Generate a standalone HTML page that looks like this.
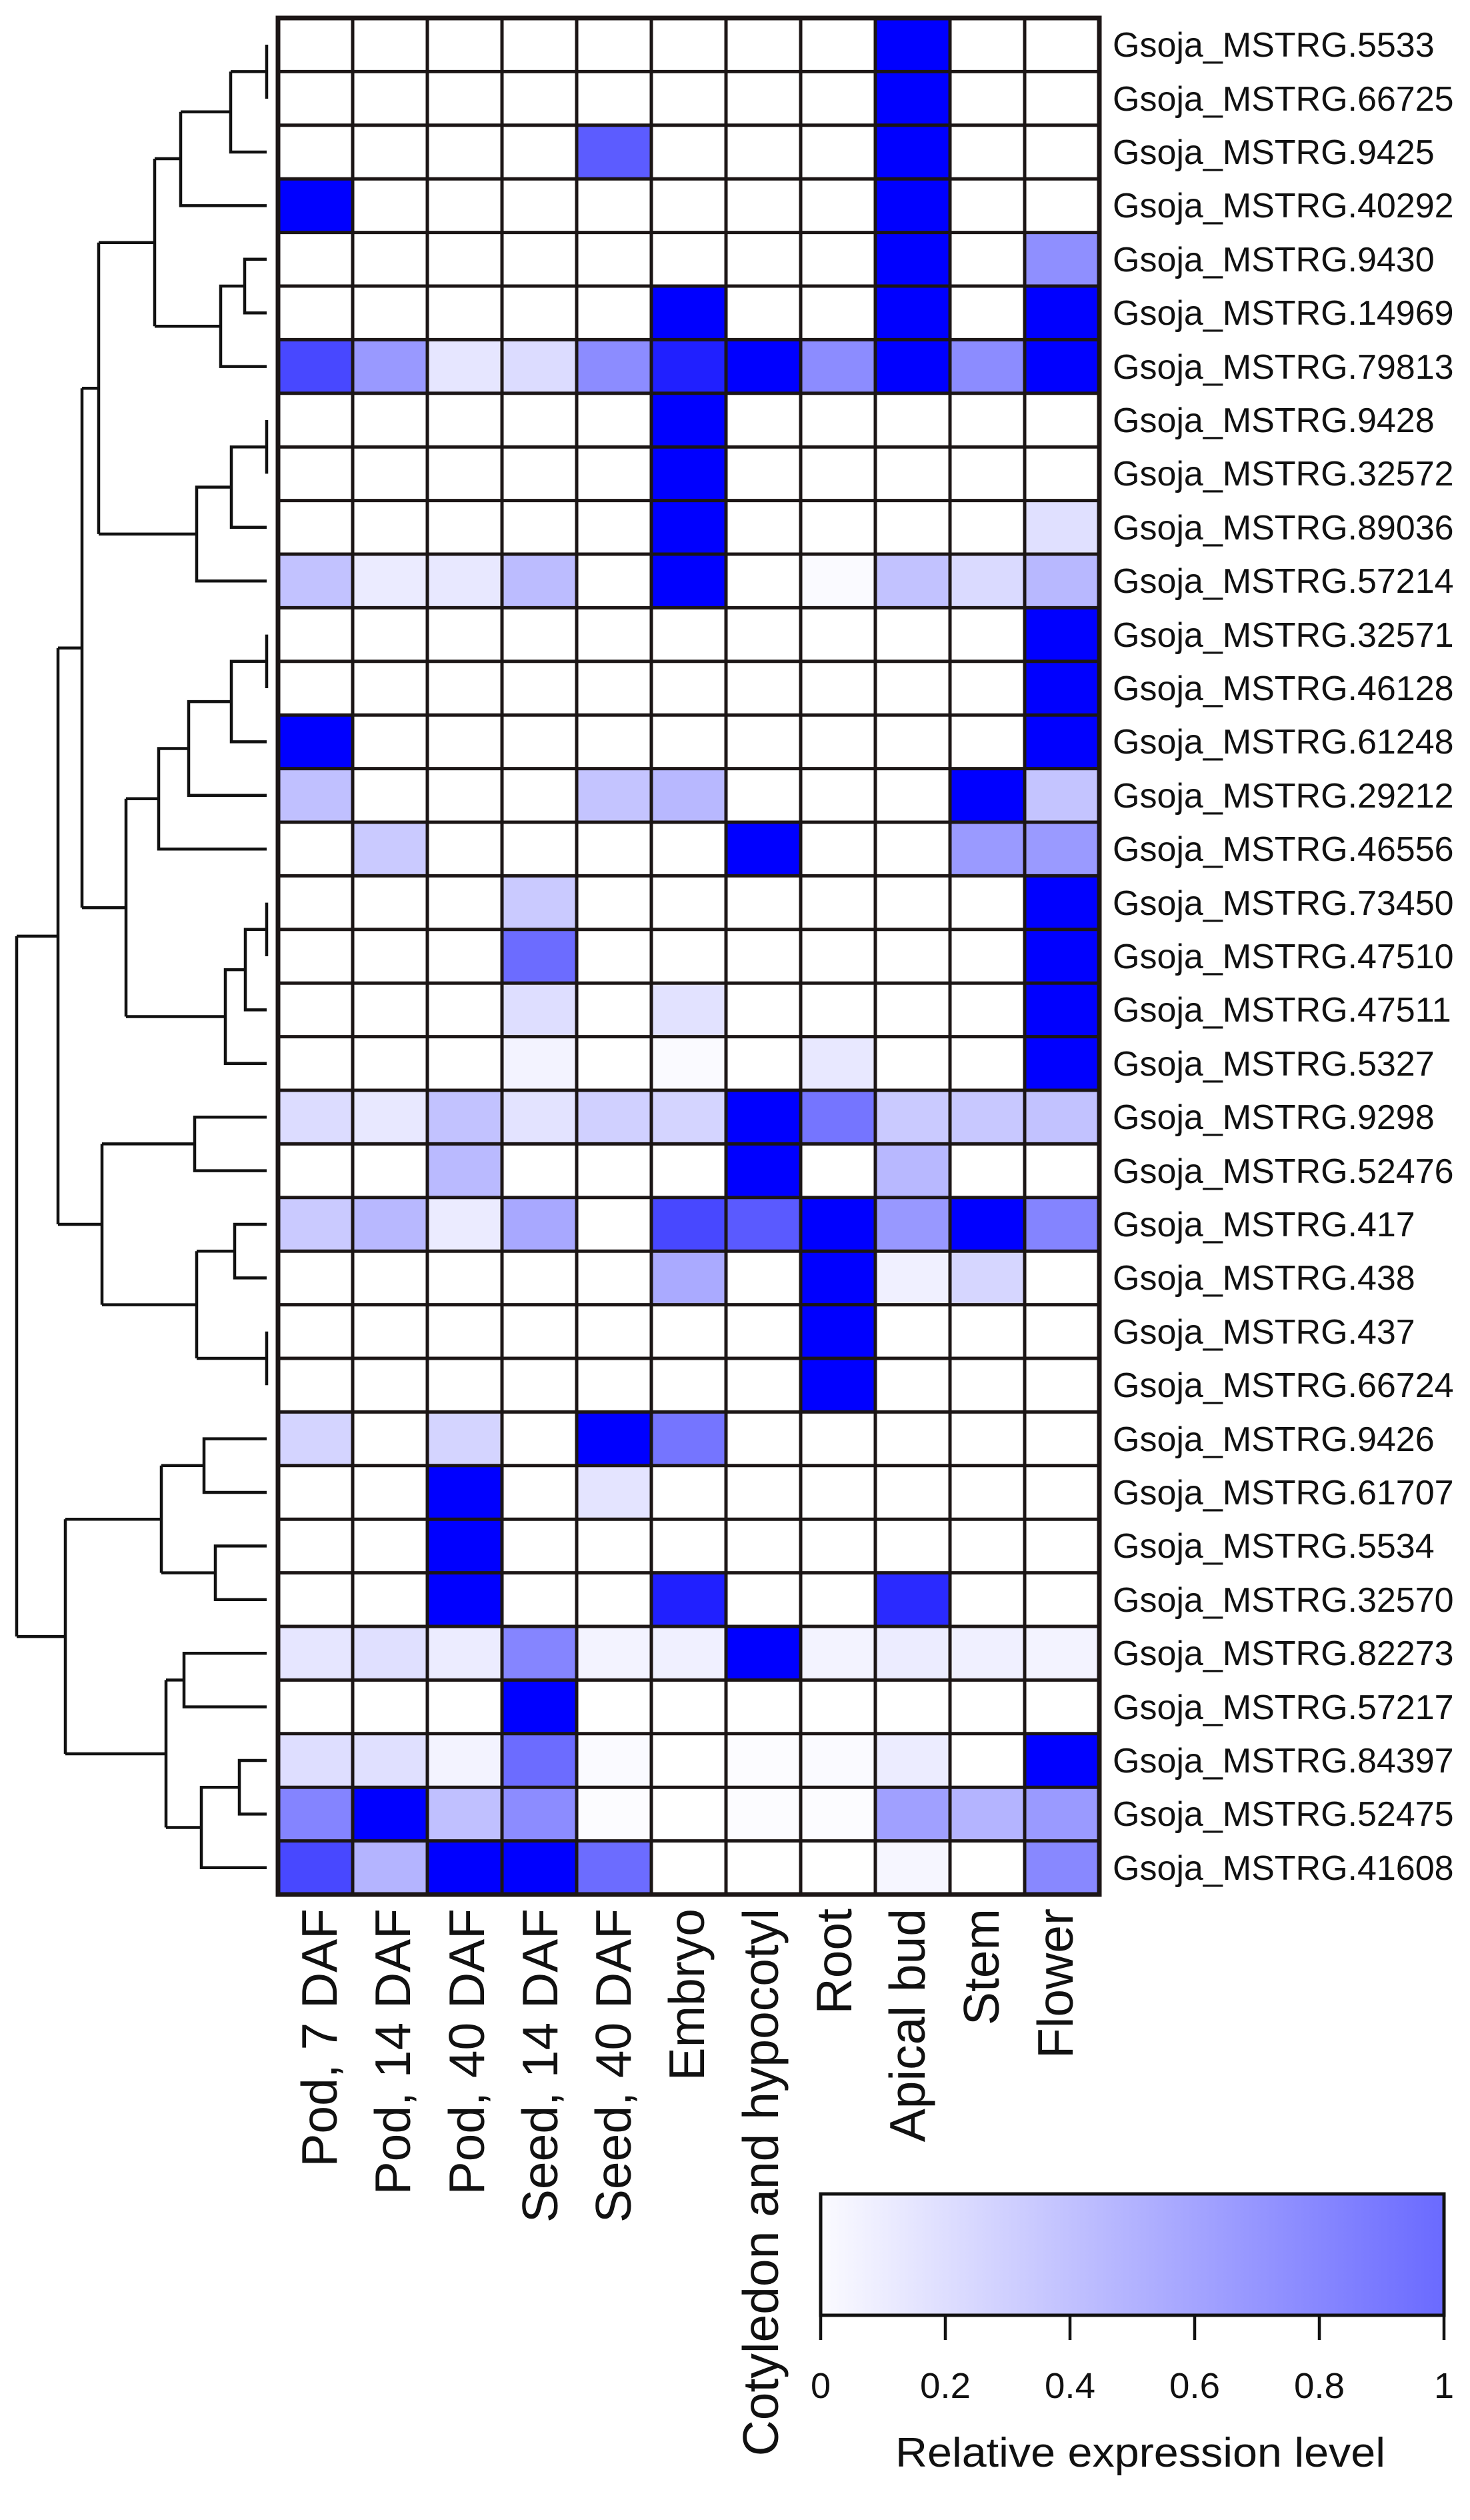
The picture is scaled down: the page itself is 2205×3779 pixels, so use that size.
<!DOCTYPE html>
<html><head><meta charset="utf-8"><style>
html,body{margin:0;padding:0;background:#fff;}
svg{display:block;}
text{font-family:"Liberation Sans",Arial,sans-serif;fill:#111;}
</style></head><body>
<svg width="2205" height="3779" viewBox="0 0 2205 3779" xmlns="http://www.w3.org/2000/svg">
<rect width="2205" height="3779" fill="#fff"/>
<g transform="translate(417,27) scale(112,80.4)" shape-rendering="crispEdges">
<rect x="8" y="0" width="1" height="1" fill="#0000ff"/>
<rect x="8" y="1" width="1" height="1" fill="#0000ff"/>
<rect x="4" y="2" width="1" height="1" fill="#5c5cff"/><rect x="8" y="2" width="1" height="1" fill="#0000ff"/>
<rect x="0" y="3" width="1" height="1" fill="#0000ff"/><rect x="8" y="3" width="1" height="1" fill="#0000ff"/>
<rect x="8" y="4" width="1" height="1" fill="#0000ff"/><rect x="10" y="4" width="1" height="1" fill="#8f8fff"/>
<rect x="5" y="5" width="1" height="1" fill="#0000ff"/><rect x="8" y="5" width="1" height="1" fill="#0000ff"/><rect x="10" y="5" width="1" height="1" fill="#0000ff"/>
<rect x="0" y="6" width="1" height="1" fill="#4848ff"/><rect x="1" y="6" width="1" height="1" fill="#9999ff"/><rect x="2" y="6" width="1" height="1" fill="#e6e6ff"/><rect x="3" y="6" width="1" height="1" fill="#dcdcff"/><rect x="4" y="6" width="1" height="1" fill="#8c8cff"/><rect x="5" y="6" width="1" height="1" fill="#2020ff"/><rect x="6" y="6" width="1" height="1" fill="#0000ff"/><rect x="7" y="6" width="1" height="1" fill="#8c8cff"/><rect x="8" y="6" width="1" height="1" fill="#0000ff"/><rect x="9" y="6" width="1" height="1" fill="#8c8cff"/><rect x="10" y="6" width="1" height="1" fill="#0000ff"/>
<rect x="5" y="7" width="1" height="1" fill="#0000ff"/>
<rect x="5" y="8" width="1" height="1" fill="#0000ff"/>
<rect x="5" y="9" width="1" height="1" fill="#0000ff"/><rect x="10" y="9" width="1" height="1" fill="#e0e0ff"/>
<rect x="0" y="10" width="1" height="1" fill="#c2c2ff"/><rect x="1" y="10" width="1" height="1" fill="#ebebff"/><rect x="2" y="10" width="1" height="1" fill="#e8e8ff"/><rect x="3" y="10" width="1" height="1" fill="#bcbcff"/><rect x="5" y="10" width="1" height="1" fill="#0000ff"/><rect x="7" y="10" width="1" height="1" fill="#fafaff"/><rect x="8" y="10" width="1" height="1" fill="#c2c2ff"/><rect x="9" y="10" width="1" height="1" fill="#dadaff"/><rect x="10" y="10" width="1" height="1" fill="#b8b8ff"/>
<rect x="10" y="11" width="1" height="1" fill="#0000ff"/>
<rect x="10" y="12" width="1" height="1" fill="#0000ff"/>
<rect x="0" y="13" width="1" height="1" fill="#0000ff"/><rect x="10" y="13" width="1" height="1" fill="#0000ff"/>
<rect x="0" y="14" width="1" height="1" fill="#c0c0ff"/><rect x="4" y="14" width="1" height="1" fill="#c4c4ff"/><rect x="5" y="14" width="1" height="1" fill="#b8b8ff"/><rect x="9" y="14" width="1" height="1" fill="#0000ff"/><rect x="10" y="14" width="1" height="1" fill="#c4c4ff"/>
<rect x="1" y="15" width="1" height="1" fill="#cacaff"/><rect x="6" y="15" width="1" height="1" fill="#0000ff"/><rect x="9" y="15" width="1" height="1" fill="#9a9aff"/><rect x="10" y="15" width="1" height="1" fill="#9a9aff"/>
<rect x="3" y="16" width="1" height="1" fill="#cacaff"/><rect x="10" y="16" width="1" height="1" fill="#0000ff"/>
<rect x="3" y="17" width="1" height="1" fill="#6c6cff"/><rect x="10" y="17" width="1" height="1" fill="#0000ff"/>
<rect x="3" y="18" width="1" height="1" fill="#dedeff"/><rect x="5" y="18" width="1" height="1" fill="#e2e2ff"/><rect x="10" y="18" width="1" height="1" fill="#0000ff"/>
<rect x="3" y="19" width="1" height="1" fill="#f3f3ff"/><rect x="5" y="19" width="1" height="1" fill="#fafaff"/><rect x="7" y="19" width="1" height="1" fill="#e8e8ff"/><rect x="10" y="19" width="1" height="1" fill="#0000ff"/>
<rect x="0" y="20" width="1" height="1" fill="#dcdcff"/><rect x="1" y="20" width="1" height="1" fill="#e8e8ff"/><rect x="2" y="20" width="1" height="1" fill="#c2c2ff"/><rect x="3" y="20" width="1" height="1" fill="#e3e3ff"/><rect x="4" y="20" width="1" height="1" fill="#d0d0ff"/><rect x="5" y="20" width="1" height="1" fill="#d4d4ff"/><rect x="6" y="20" width="1" height="1" fill="#0000ff"/><rect x="7" y="20" width="1" height="1" fill="#7575ff"/><rect x="8" y="20" width="1" height="1" fill="#cacaff"/><rect x="9" y="20" width="1" height="1" fill="#c8c8ff"/><rect x="10" y="20" width="1" height="1" fill="#c2c2ff"/>
<rect x="2" y="21" width="1" height="1" fill="#babaff"/><rect x="6" y="21" width="1" height="1" fill="#0000ff"/><rect x="8" y="21" width="1" height="1" fill="#b8b8ff"/>
<rect x="0" y="22" width="1" height="1" fill="#cacaff"/><rect x="1" y="22" width="1" height="1" fill="#b8b8ff"/><rect x="2" y="22" width="1" height="1" fill="#ebebff"/><rect x="3" y="22" width="1" height="1" fill="#a8a8ff"/><rect x="5" y="22" width="1" height="1" fill="#4848ff"/><rect x="6" y="22" width="1" height="1" fill="#5a5aff"/><rect x="7" y="22" width="1" height="1" fill="#0000ff"/><rect x="8" y="22" width="1" height="1" fill="#9898ff"/><rect x="9" y="22" width="1" height="1" fill="#0000ff"/><rect x="10" y="22" width="1" height="1" fill="#8484ff"/>
<rect x="5" y="23" width="1" height="1" fill="#aaaaff"/><rect x="7" y="23" width="1" height="1" fill="#0000ff"/><rect x="8" y="23" width="1" height="1" fill="#f0f0ff"/><rect x="9" y="23" width="1" height="1" fill="#d6d6ff"/>
<rect x="7" y="24" width="1" height="1" fill="#0000ff"/>
<rect x="7" y="25" width="1" height="1" fill="#0000ff"/>
<rect x="0" y="26" width="1" height="1" fill="#d4d4ff"/><rect x="2" y="26" width="1" height="1" fill="#d4d4ff"/><rect x="4" y="26" width="1" height="1" fill="#0000ff"/><rect x="5" y="26" width="1" height="1" fill="#7575ff"/>
<rect x="2" y="27" width="1" height="1" fill="#0000ff"/><rect x="4" y="27" width="1" height="1" fill="#e4e4ff"/>
<rect x="2" y="28" width="1" height="1" fill="#0000ff"/>
<rect x="2" y="29" width="1" height="1" fill="#0000ff"/><rect x="5" y="29" width="1" height="1" fill="#2020ff"/><rect x="8" y="29" width="1" height="1" fill="#2a2aff"/>
<rect x="0" y="30" width="1" height="1" fill="#e6e6ff"/><rect x="1" y="30" width="1" height="1" fill="#e0e0ff"/><rect x="2" y="30" width="1" height="1" fill="#ececff"/><rect x="3" y="30" width="1" height="1" fill="#8585ff"/><rect x="4" y="30" width="1" height="1" fill="#f3f3ff"/><rect x="5" y="30" width="1" height="1" fill="#f0f0ff"/><rect x="6" y="30" width="1" height="1" fill="#0000ff"/><rect x="7" y="30" width="1" height="1" fill="#f3f3ff"/><rect x="8" y="30" width="1" height="1" fill="#ececff"/><rect x="9" y="30" width="1" height="1" fill="#f0f0ff"/><rect x="10" y="30" width="1" height="1" fill="#f3f3ff"/>
<rect x="3" y="31" width="1" height="1" fill="#0000ff"/>
<rect x="0" y="32" width="1" height="1" fill="#dedeff"/><rect x="1" y="32" width="1" height="1" fill="#e0e0ff"/><rect x="2" y="32" width="1" height="1" fill="#f3f3ff"/><rect x="3" y="32" width="1" height="1" fill="#6c6cff"/><rect x="4" y="32" width="1" height="1" fill="#fafaff"/><rect x="6" y="32" width="1" height="1" fill="#fcfcff"/><rect x="7" y="32" width="1" height="1" fill="#fafaff"/><rect x="8" y="32" width="1" height="1" fill="#ececff"/><rect x="10" y="32" width="1" height="1" fill="#0000ff"/>
<rect x="0" y="33" width="1" height="1" fill="#8484ff"/><rect x="1" y="33" width="1" height="1" fill="#0000ff"/><rect x="2" y="33" width="1" height="1" fill="#c0c0ff"/><rect x="3" y="33" width="1" height="1" fill="#8c8cff"/><rect x="4" y="33" width="1" height="1" fill="#fcfcff"/><rect x="6" y="33" width="1" height="1" fill="#fcfcff"/><rect x="7" y="33" width="1" height="1" fill="#fcfcff"/><rect x="8" y="33" width="1" height="1" fill="#a0a0ff"/><rect x="9" y="33" width="1" height="1" fill="#b4b4ff"/><rect x="10" y="33" width="1" height="1" fill="#9a9aff"/>
<rect x="0" y="34" width="1" height="1" fill="#4848ff"/><rect x="1" y="34" width="1" height="1" fill="#b4b4ff"/><rect x="2" y="34" width="1" height="1" fill="#0000ff"/><rect x="3" y="34" width="1" height="1" fill="#0000ff"/><rect x="4" y="34" width="1" height="1" fill="#6c6cff"/><rect x="8" y="34" width="1" height="1" fill="#f6f6ff"/><rect x="10" y="34" width="1" height="1" fill="#8888ff"/>
</g>
<!-- grid lines -->
<g stroke="#1c1616" stroke-width="5" fill="none">
<path d="M529 27V2841M641 27V2841M753 27V2841M865 27V2841M977 27V2841M1089 27V2841M1201 27V2841M1313 27V2841M1425 27V2841M1537 27V2841"/>
<path d="M417 107.4H1649M417 187.8H1649M417 268.2H1649M417 348.6H1649M417 429H1649M417 509.4H1649M417 589.8H1649M417 670.2H1649M417 750.6H1649M417 831H1649M417 911.4H1649M417 991.8H1649M417 1072.2H1649M417 1152.6H1649M417 1233H1649M417 1313.4H1649M417 1393.8H1649M417 1474.2H1649M417 1554.6H1649M417 1635H1649M417 1715.4H1649M417 1795.8H1649M417 1876.2H1649M417 1956.6H1649M417 2037H1649M417 2117.4H1649M417 2197.8H1649M417 2278.2H1649M417 2358.6H1649M417 2439H1649M417 2519.4H1649M417 2599.8H1649M417 2680.2H1649M417 2760.6H1649"/>
<rect x="417" y="27" width="1232" height="2814" stroke-width="7"/>
</g>
<!-- dendrogram -->
<g stroke="#111" stroke-width="4.5" fill="none" stroke-linecap="butt">
<path d="M400 67V148M400 107.4H346M346 107.4V228H400M346 167.7H271M271 167.7V308.4H400M271 238H232"/>
<path d="M400 388.8H367V469.2H400M367 429H331V549.6H400M331 489.3H232M232 238V489.3M232 363.7H148"/>
<path d="M400 630V710.4M400 670.2H347V790.8H400M347 730.5H295V871.2H400M295 800.9H148M148 363.7V800.9M148 582.3H123"/>
<path d="M400 951.6V1032M400 991.8H347V1112.4H400M347 1052.1H283V1192.8H400M283 1122.5H238V1273.2H400M238 1197.8H189"/>
<path d="M400 1353.6V1434M400 1393.8H368V1514.4H400M368 1454.1H338V1594.8H400M338 1524.5H189M189 1197.8V1524.5M189 1361.1H123M123 582.3V1361.1M123 971.7H87"/>
<path d="M400 1675.2H292V1755.6H400M292 1715.4H153M400 1836H352V1916.4H400M352 1876.2H295M400 1996.8V2077.2M400 2037H295M295 1876.2V2037M295 1956.6H153M153 1715.4V1956.6M153 1836H87M87 971.7V1836M87 1403.9H25"/>
<path d="M400 2157.6H306V2238H400M306 2197.8H242M400 2318.4H323V2398.8H400M323 2358.6H242M242 2197.8V2358.6M242 2278.2H98"/>
<path d="M400 2479.2H276V2559.6H400M276 2519.4H249M400 2640H359V2720.4H400M359 2680.2H302V2800.8H400M302 2740.5H249M249 2519.4V2740.5M249 2630H98M98 2278.2V2630M98 2454.1H25M25 1403.9V2454.1"/>
</g>
<!-- row labels -->
<g font-size="52">
<text x="1669" y="85">Gsoja_MSTRG.5533</text>
<text x="1669" y="166">Gsoja_MSTRG.66725</text>
<text x="1669" y="246">Gsoja_MSTRG.9425</text>
<text x="1669" y="326">Gsoja_MSTRG.40292</text>
<text x="1669" y="407">Gsoja_MSTRG.9430</text>
<text x="1669" y="487">Gsoja_MSTRG.14969</text>
<text x="1669" y="568">Gsoja_MSTRG.79813</text>
<text x="1669" y="648">Gsoja_MSTRG.9428</text>
<text x="1669" y="728">Gsoja_MSTRG.32572</text>
<text x="1669" y="809">Gsoja_MSTRG.89036</text>
<text x="1669" y="889">Gsoja_MSTRG.57214</text>
<text x="1669" y="970">Gsoja_MSTRG.32571</text>
<text x="1669" y="1050">Gsoja_MSTRG.46128</text>
<text x="1669" y="1130">Gsoja_MSTRG.61248</text>
<text x="1669" y="1211">Gsoja_MSTRG.29212</text>
<text x="1669" y="1291">Gsoja_MSTRG.46556</text>
<text x="1669" y="1372">Gsoja_MSTRG.73450</text>
<text x="1669" y="1452">Gsoja_MSTRG.47510</text>
<text x="1669" y="1532">Gsoja_MSTRG.47511</text>
<text x="1669" y="1613">Gsoja_MSTRG.5327</text>
<text x="1669" y="1693">Gsoja_MSTRG.9298</text>
<text x="1669" y="1774">Gsoja_MSTRG.52476</text>
<text x="1669" y="1854">Gsoja_MSTRG.417</text>
<text x="1669" y="1934">Gsoja_MSTRG.438</text>
<text x="1669" y="2015">Gsoja_MSTRG.437</text>
<text x="1669" y="2095">Gsoja_MSTRG.66724</text>
<text x="1669" y="2176">Gsoja_MSTRG.9426</text>
<text x="1669" y="2256">Gsoja_MSTRG.61707</text>
<text x="1669" y="2336">Gsoja_MSTRG.5534</text>
<text x="1669" y="2417">Gsoja_MSTRG.32570</text>
<text x="1669" y="2497">Gsoja_MSTRG.82273</text>
<text x="1669" y="2578">Gsoja_MSTRG.57217</text>
<text x="1669" y="2658">Gsoja_MSTRG.84397</text>
<text x="1669" y="2738">Gsoja_MSTRG.52475</text>
<text x="1669" y="2819">Gsoja_MSTRG.41608</text>
</g>
<!-- column labels -->
<g font-size="75" text-anchor="end">
<text transform="translate(505,2862) rotate(-90)">Pod, 7 DAF</text>
<text transform="translate(615,2862) rotate(-90)">Pod, 14 DAF</text>
<text transform="translate(726,2862) rotate(-90)">Pod, 40 DAF</text>
<text transform="translate(836,2862) rotate(-90)">Seed, 14 DAF</text>
<text transform="translate(946,2862) rotate(-90)">Seed, 40 DAF</text>
<text transform="translate(1056,2862) rotate(-90)">Embryo</text>
<text transform="translate(1167,2862) rotate(-90)">Cotyledon and hypocotyl</text>
<text transform="translate(1277,2862) rotate(-90)">Root</text>
<text transform="translate(1387,2862) rotate(-90)">Apical bud</text>
<text transform="translate(1498,2862) rotate(-90)">Stem</text>
<text transform="translate(1609,2862) rotate(-90)">Flower</text>
</g>
<!-- colorbar -->
<defs><linearGradient id="cb" x1="0" x2="1" y1="0" y2="0"><stop offset="0" stop-color="#fbfbff"/><stop offset="1" stop-color="#6a6aff"/></linearGradient></defs>
<rect x="1231" y="3290" width="935" height="182" fill="url(#cb)" stroke="#111" stroke-width="5"/>
<g stroke="#111" stroke-width="4.5">
<path d="M1231 3472V3509M1418 3472V3509M1605 3472V3509M1792 3472V3509M1979 3472V3509M2166 3472V3509"/>
</g>
<g font-size="54" text-anchor="middle">
<text x="1231" y="3596">0</text>
<text x="1418" y="3596" textLength="76" lengthAdjust="spacingAndGlyphs">0.2</text>
<text x="1605" y="3596" textLength="76" lengthAdjust="spacingAndGlyphs">0.4</text>
<text x="1792" y="3596" textLength="76" lengthAdjust="spacingAndGlyphs">0.6</text>
<text x="1979" y="3596" textLength="76" lengthAdjust="spacingAndGlyphs">0.8</text>
<text x="2166" y="3596">1</text>
</g>
<text x="1343" y="3699" font-size="62" textLength="735" lengthAdjust="spacingAndGlyphs">Relative expression level</text>
</svg>
</body></html>
